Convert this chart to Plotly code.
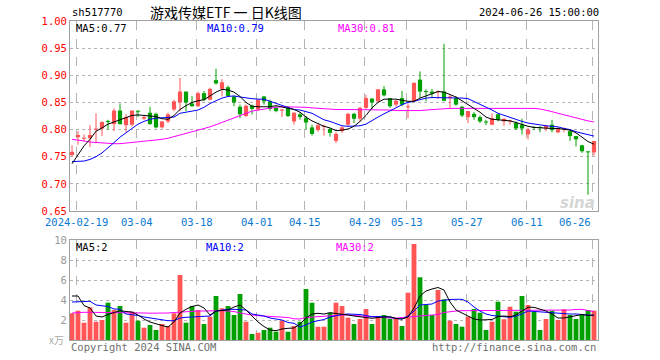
import plotly.graph_objects as go

# ---------------- data ----------------
dates = [
    "2024-02-08",
    "2024-02-19", "2024-02-20", "2024-02-21", "2024-02-22", "2024-02-23",
    "2024-02-26", "2024-02-27", "2024-02-28", "2024-02-29", "2024-03-01",
    "2024-03-04", "2024-03-05", "2024-03-06", "2024-03-07", "2024-03-08",
    "2024-03-11", "2024-03-12", "2024-03-13", "2024-03-14", "2024-03-15",
    "2024-03-18", "2024-03-19", "2024-03-20", "2024-03-21", "2024-03-22",
    "2024-03-25", "2024-03-26", "2024-03-27", "2024-03-28", "2024-03-29",
    "2024-04-01", "2024-04-02", "2024-04-03",
    "2024-04-08", "2024-04-09", "2024-04-10", "2024-04-11", "2024-04-12",
    "2024-04-15", "2024-04-16", "2024-04-17", "2024-04-18", "2024-04-19",
    "2024-04-22", "2024-04-23", "2024-04-24", "2024-04-25", "2024-04-26",
    "2024-04-29", "2024-04-30",
    "2024-05-06", "2024-05-07", "2024-05-08", "2024-05-09", "2024-05-10",
    "2024-05-13", "2024-05-14", "2024-05-15", "2024-05-16", "2024-05-17",
    "2024-05-20", "2024-05-21", "2024-05-22", "2024-05-23", "2024-05-24",
    "2024-05-27", "2024-05-28", "2024-05-29", "2024-05-30", "2024-05-31",
    "2024-06-03", "2024-06-04", "2024-06-05", "2024-06-06", "2024-06-07",
    "2024-06-11", "2024-06-12", "2024-06-13", "2024-06-14",
    "2024-06-17", "2024-06-18", "2024-06-19", "2024-06-20", "2024-06-21",
    "2024-06-24", "2024-06-25", "2024-06-26",
]

open_ = [.753, .786, .783, .784, .800, .802, .815, .810, .835, .808,
         .809, .834, .820, .831, .829, .804, .815, .837, .850, .870,
         .848, .843, .867, .855, .891, .875, .878, .861, .842, .825,
         .844, .837, .861, .852, .840, .835, .840, .815, .828, .821,
         .804, .799, .805, .801, .779, .797, .809, .829, .820, .840,
         .857, .852, .874, .858, .846, .858, .841, .852, .892, .870,
         .870, .869, .870, .858, .858, .842, .823, .829, .823, .814,
         .809, .828, .815, .815, .812, .809, .791, .804, .804, .802,
         .809, .795, .801, .797, .788, .771, .759, .758]

high = [.771, .797, .791, .808, .830, .815, .818, .839, .848, .828,
        .835, .835, .825, .842, .831, .815, .831, .855, .895, .870,
        .862, .870, .871, .877, .912, .893, .881, .862, .846, .846,
        .846, .856, .862, .855, .844, .838, .843, .832, .832, .825,
        .809, .811, .809, .803, .795, .806, .831, .831, .842, .864,
        .858, .875, .880, .858, .855, .871, .848, .887, .907, .874,
        .875, .872, .958, .864, .861, .844, .834, .832, .826, .818,
        .830, .830, .820, .818, .815, .820, .803, .806, .806, .809,
        .818, .804, .804, .798, .788, .772, .760, .779]

low = [.751, .772, .778, .768, .775, .788, .800, .797, .809, .795,
       .806, .823, .818, .809, .802, .802, .812, .834, .834, .834,
       .842, .842, .852, .854, .883, .861, .861, .843, .821, .823,
       .828, .834, .846, .834, .832, .823, .823, .809, .818, .800,
       .789, .796, .789, .787, .775, .794, .806, .812, .815, .837,
       .838, .851, .861, .840, .842, .843, .821, .851, .858, .852,
       .858, .856, .852, .840, .844, .823, .812, .818, .812, .808,
       .808, .815, .807, .809, .799, .791, .782, .799, .795, .797,
       .795, .793, .795, .779, .769, .757, .680, .752]

close = [.759, .790, .785, .790, .801, .814, .814, .835, .810, .823,
         .835, .833, .823, .810, .804, .815, .828, .852, .870, .850,
         .843, .867, .855, .875, .885, .887, .862, .850, .828, .844,
         .838, .855, .852, .838, .834, .836, .825, .831, .823, .813,
         .792, .808, .806, .794, .792, .804, .829, .820, .840, .858,
         .850, .874, .863, .843, .853, .846, .842, .886, .870, .869,
         .866, .870, .853, .861, .846, .826, .834, .823, .815, .813,
         .821, .818, .820, .816, .802, .802, .800, .803, .803, .807,
         .799, .802, .802, .788, .782, .760, .758, .779]

volume = [2.67, 2.93, 1.73, 3.27, 1.83, 2.0, 3.73, 3.0, 3.4, 1.73,
          2.83, 1.93, 1.23, 1.5, 1.0, 1.6, 1.4, 2.67, 6.5, 1.73,
          3.4, 3.0, 1.6, 2.33, 4.4, 3.17, 3.4, 2.5, 4.6, 1.83,
          0.6, 0.73, 1.0, 1.23, 0.83, 1.93, 0.83, 1.4, 1.83, 5.1,
          3.73, 1.33, 1.33, 2.73, 3.73, 3.4, 2.23, 1.6, 2.1, 3.1,
          1.6, 2.27, 2.5, 2.13, 2.23, 1.4, 4.73, 9.6, 6.27, 3.5,
          2.5, 5.0, 4.07, 1.93, 1.6, 1.33, 2.33, 3.1, 2.73, 1.0,
          1.83, 3.83, 2.07, 3.33, 2.83, 4.4, 3.5, 2.83, 1.0, 2.1,
          2.93, 2.0, 3.07, 2.5, 2.1, 2.5, 3.0, 2.93]

ma5 = [.737, .754, .770, .782, .797, .803, .810, .814, .818, .822,
       .826, .827, .826, .826, .824, .820, .819, .826, .837, .844,
       .850, .853, .855, .862, .869, .874, .873, .869, .861, .850,
       .843, .842, .842, .842, .844, .842, .840, .837, .832, .823,
       .816, .811, .806, .803, .798, .799, .801, .806, .815, .826,
       .840, .850, .856, .856, .856, .854, .852, .852, .858, .862,
       .866, .870, .869, .865, .860, .853, .846, .839, .832, .823,
       .819, .818, .817, .816, .813, .809, .806, .804, .803, .803,
       .802, .802, .801, .799, .794, .786, .778, .773]

ma10 = [.741, .741, .742, .745, .750, .757, .766, .776, .786, .794,
        .803, .810, .815, .819, .821, .822, .822, .823, .830, .832,
        .833, .836, .841, .848, .853, .858, .861, .862, .860, .858,
        .857, .856, .856, .852, .848, .845, .840, .837, .836, .833,
        .830, .824, .818, .815, .811, .807, .806, .806, .807, .810,
        .817, .823, .829, .834, .840, .846, .850, .852, .855, .858,
        .859, .859, .858, .858, .858, .858, .857, .852, .847, .841,
        .836, .830, .826, .822, .818, .815, .812, .810, .808, .807,
        .806, .805, .802, .800, .796, .793, .790, .788]

ma30 = [.782, .781, .779, .777, .776, .775, .775, .774, .774, .775,
        .776, .777, .778, .779, .781, .782, .784, .787, .789, .792,
        .795, .798, .801, .805, .809, .813, .818, .822, .826, .830,
        .834, .836, .838, .840, .841, .842, .842, .842, .842, .841,
        .840, .839, .838, .838, .837, .837, .837, .837, .837, .837,
        .836, .836, .836, .836, .835, .835, .834, .834, .835, .836,
        .837, .838, .838, .839, .839, .839, .839, .839, .839, .839,
        .839, .840, .840, .840, .840, .840, .840, .839, .838, .836,
        .833, .830, .827, .824, .821, .819, .816, .814]

vma5 = [4.4, 4.4, 3.45, 3.2, 2.4, 2.3, 2.55, 2.75, 2.93, 2.85,
        2.8, 2.5, 2.1, 1.8, 1.6, 1.45, 1.3, 1.8, 2.7, 3.07,
        3.35, 3.5, 3.2, 2.5, 2.9, 2.95, 3.0, 3.3, 3.5, 3.0,
        2.4, 1.8, 1.35, 1.0, 0.93, 1.1, 1.17, 1.2, 1.6, 2.2,
        2.6, 2.67, 2.6, 2.73, 2.65, 2.6, 2.5, 2.4, 2.33, 2.2,
        2.17, 2.25, 2.3, 2.33, 2.15, 2.1, 2.3, 3.2, 4.4, 4.9,
        5.1, 5.25, 5.0, 3.8, 3.0, 2.7, 2.35, 2.1, 2.0, 2.0,
        2.05, 2.35, 2.4, 2.33, 2.5, 2.9, 3.27, 3.27, 3.1, 2.9,
        2.6, 2.2, 2.2, 2.3, 2.45, 2.55, 2.45, 2.5]

vma10 = [3.8, 3.8, 3.85, 3.87, 3.5, 3.4, 3.35, 3.1, 3.07, 2.6,
         2.55, 2.45, 2.3, 2.2, 2.13, 2.05, 1.93, 1.93, 2.2, 2.27,
         2.3, 2.4, 2.4, 2.4, 2.9, 3.0, 3.07, 3.07, 3.05, 3.0,
         2.6, 2.5, 2.4, 2.2, 2.1, 2.0, 1.75, 1.67, 1.3, 1.5,
         1.8, 1.93, 2.05, 2.3, 2.45, 2.55, 2.6, 2.6, 2.55, 2.45,
         2.33, 2.35, 2.3, 2.3, 2.15, 2.1, 2.4, 2.9, 3.5, 3.55,
         3.6, 3.9, 4.0, 4.05, 4.07, 4.07, 3.8, 3.3, 2.9, 2.6,
         2.45, 2.4, 2.3, 2.27, 2.4, 2.6, 2.9, 2.85, 2.8, 2.8,
         2.75, 2.7, 2.65, 2.6, 2.6, 2.55, 2.5, 2.45]

vma30 = [2.7, 2.77, 2.77, 2.77, 2.77, 2.77, 2.77, 2.77, 2.77, 2.77,
         2.73, 2.72, 2.7, 2.68, 2.67, 2.67, 2.7, 2.75, 2.8, 2.85,
         2.87, 2.9, 2.9, 2.92, 2.93, 2.93, 2.9, 2.85, 2.7, 2.57,
         2.5, 2.43, 2.4, 2.35, 2.3, 2.27, 2.25, 2.12, 2.1, 2.25,
         2.3, 2.33, 2.33, 2.45, 2.5, 2.5, 2.5, 2.45, 2.35, 2.33,
         2.3, 2.27, 2.25, 2.22, 2.17, 2.25, 2.3, 2.35, 2.4, 2.45,
         2.5, 2.55, 2.75, 2.85, 2.9, 2.93, 2.93, 2.93, 2.93, 2.93,
         2.93, 2.93, 2.93, 2.93, 3.0, 3.0, 3.0, 3.0, 3.0, 3.0,
         3.0, 3.0, 3.0, 3.0, 3.05, 3.07, 2.95, 2.85]

tick_dates = ["2024-02-19", "2024-03-04", "2024-03-18", "2024-04-01", "2024-04-15",
              "2024-04-29", "2024-05-13", "2024-05-27", "2024-06-11", "2024-06-26"]
tick_labels = ["2024-02-19", "03-04", "03-18", "04-01", "04-15",
               "04-29", "05-13", "05-27", "06-11", "06-26"]
price_ticks = [0.65, 0.70, 0.75, 0.80, 0.85, 0.90, 0.95, 1.00]
vol_ticks = [2, 4, 6, 8, 10]

# ---------------- styling ----------------
RED = "#ff5555"
GREEN = "#00a000"
MONO = "DejaVu Sans Mono"
GRID = "#b4b4b4"
BORDER = "#a0a0a0"

W, H = 660, 360
L, R, T, B = 70, 62, 21, 20
PW, PH = W - L - R, H - T - B


def px(x):
    return (x - L) / PW


def py(y):
    return (H - B - y) / PH


n = len(dates)
xs = list(range(n))
is_up = [c >= o for o, c in zip(open_, close)]
body_base = [min(o, c) for o, c in zip(open_, close)]
body_h = [max(abs(c - o), 0.0019) for o, c in zip(open_, close)]
colors = [RED if u else GREEN for u in is_up]

fig = go.Figure()

# wicks
for flag, col in [(True, RED), (False, GREEN)]:
    wx, wy = [], []
    for i in xs:
        if is_up[i] == flag:
            wx += [i, i, None]
            wy += [low[i], high[i], None]
    fig.add_trace(go.Scatter(x=wx, y=wy, mode="lines", line=dict(color=col, width=1),
                             xaxis="x", yaxis="y", hoverinfo="skip", showlegend=False))

# bodies
fig.add_trace(go.Bar(x=xs, y=body_h, base=body_base, width=0.7, marker=dict(color=colors, line=dict(width=0)),
                     xaxis="x", yaxis="y", hoverinfo="skip", showlegend=False))

# price MAs
for arr, col in [(ma30, "#ff00ff"), (ma10, "#0000ff"), (ma5, "#000000")]:
    fig.add_trace(go.Scatter(x=xs, y=arr, mode="lines", line=dict(color=col, width=1),
                             xaxis="x", yaxis="y", hoverinfo="skip", showlegend=False))

# volume bars
fig.add_trace(go.Bar(x=xs, y=volume, width=0.8, marker=dict(color=colors, line=dict(width=0)),
                     xaxis="x2", yaxis="y2", hoverinfo="skip", showlegend=False))
for arr, col in [(vma30, "#ff00ff"), (vma10, "#0000ff"), (vma5, "#000000")]:
    fig.add_trace(go.Scatter(x=xs, y=arr, mode="lines", line=dict(color=col, width=1),
                             xaxis="x2", yaxis="y2", hoverinfo="skip", showlegend=False))

tick_pos = [dates.index(d) - 0.25 for d in tick_dates]
xrange = [-(2 / 6), (PW - 2) / 6]

axis_common = dict(showline=True, mirror=True, linecolor=BORDER, linewidth=1, zeroline=False,
                   showgrid=True, gridcolor=GRID, gridwidth=1, ticks="", fixedrange=True)

fig.update_layout(
    width=W, height=H, autosize=False,
    margin=dict(l=L, r=R, t=T, b=B, pad=0),
    plot_bgcolor="white", paper_bgcolor="white",
    barmode="overlay", showlegend=False,
    xaxis=dict(domain=[0, 1], range=xrange, anchor="y", tickvals=tick_pos, showticklabels=False,
               griddash="dash", **axis_common),
    yaxis=dict(domain=[(H - B - 211) / PH, 1], range=[0.65, 1.0], anchor="x", tickvals=price_ticks,
               ticktext=["%.2f" % v for v in price_ticks], griddash="dot",
               tickfont=dict(family=MONO, size=10.5, color="#ff0000"), **axis_common),
    xaxis2=dict(domain=[0, 1], range=xrange, anchor="y2", tickvals=tick_pos, showticklabels=False,
                griddash="dash", **axis_common),
    yaxis2=dict(domain=[0, 100 / PH], range=[0, 10], anchor="x2", tickvals=vol_ticks,
                ticktext=[str(v) for v in vol_ticks], griddash="dot",
                tickfont=dict(family=MONO, size=10.5, color="#999999"), **axis_common),
)

ann = []


def text(x, y, s, color="#000000", size=10.5, xanchor="left", family=MONO, **kw):
    ann.append(dict(x=px(x), y=py(y), xref="paper", yref="paper", text=s, showarrow=False,
                    xanchor=xanchor, yanchor="middle", font=dict(family=family, size=size, color=color), **kw))


# header
text(70, 12, "sh517770")
text(226, 12, "游戏传媒ETF 一 日K线图", size=14, xanchor="center", family="Noto Sans CJK SC")
text(601, 12, "2024-06-26 15:00:00", xanchor="right")

# price MA legend
text(74, 28, "MA5:%.2f" % ma5[-1])
text(205, 28, "MA10:%.2f" % ma10[-1], color="#0000ff")
text(336, 28, "MA30:%.2f" % ma30[-1], color="#ff00ff")

# volume MA legend
text(74, 247, "MA5:%d" % int(vma5[-1]))
text(204, 247, "MA10:%d" % int(vma10[-1]), color="#0000ff")
text(334, 247, "MA30:%d" % int(vma30[-1]), color="#ff00ff")

# date labels
for i, (p, lab) in enumerate(zip(tick_pos, tick_labels)):
    ann.append(dict(x=p, y=py(222), xref="x", yref="paper", text=lab, showarrow=False,
                    xanchor="right" if i == len(tick_pos) - 1 else "center", yanchor="middle",
                    font=dict(family=MONO, size=10.5, color="#0a78d2")))

# footer
text(56, 339, "x万", color="#aaaaaa", size=10, xanchor="center", family="Noto Sans CJK SC")
text(69, 347, "Copyright 2024 SINA.COM", color="#707070")
text(598, 347, "http://finance.sina.com.cn", color="#707070", xanchor="right")

# watermark
text(577, 203, "sina", color="#d6d6d6", size=15, xanchor="center", family="DejaVu Sans")
ann[-1]["font"]["weight"] = "bold"
ann[-1]["font"]["style"] = "italic"

fig.update_layout(annotations=ann)

fig.write_html("out.html", config={"displayModeBar": False, "staticPlot": True},
               post_script="document.body.style.margin='0px';document.body.style.overflow='hidden';")
